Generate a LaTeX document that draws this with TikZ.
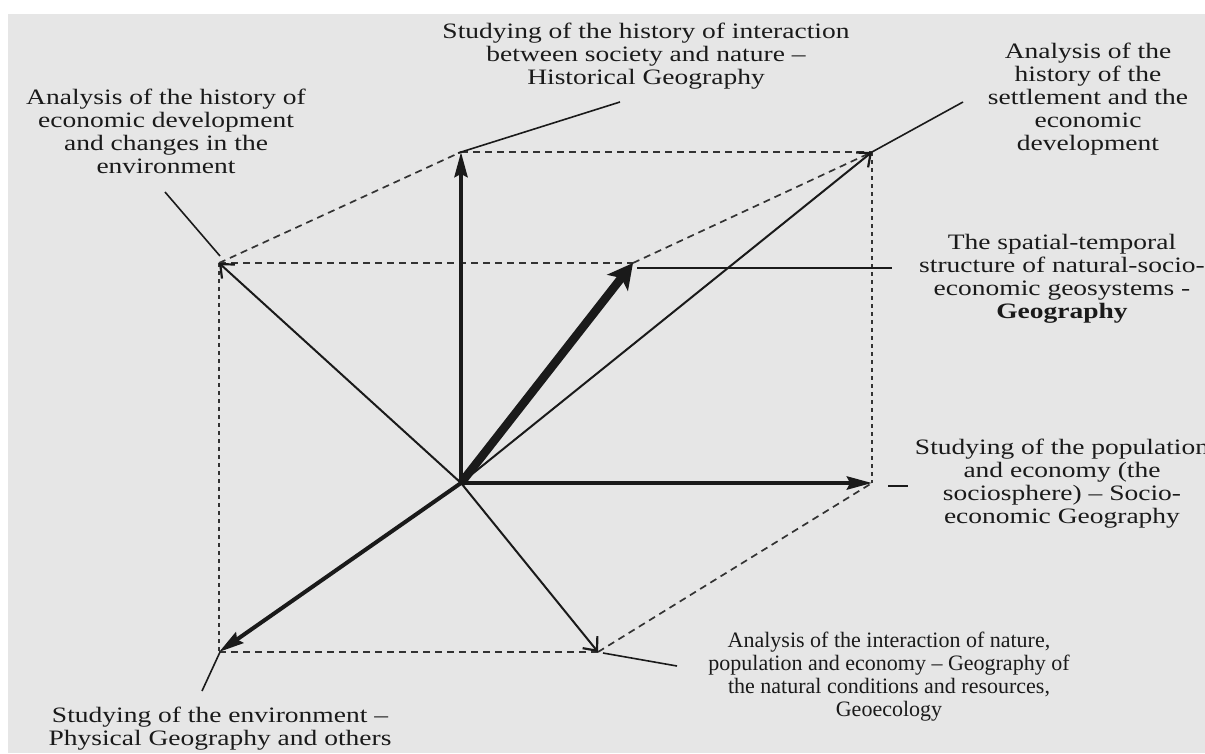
\documentclass[tikz,border=0pt]{standalone}
\usepackage{fontspec}
\setmainfont{Liberation Serif}[FakeStretch=1.25]
\newfontfamily\plainserif{Liberation Serif}[Ligatures=TeX]
\usetikzlibrary{arrows.meta}
\definecolor{bg}{HTML}{E6E6E6}
\definecolor{ink}{HTML}{1A1A1A}
\definecolor{dashink}{HTML}{333333}
\begin{document}
\begin{tikzpicture}[x=1pt,y=-1pt,
  lbl/.style={align=center,font=\fontsize{22}{23}\selectfont,inner sep=0pt,text=ink},
  lblnarrow/.style={lbl,font=\plainserif\fontsize{22}{23}\selectfont},
  leader/.style={line width=1.6pt,draw=ink},
  hid/.style={line width=1.7pt,draw=dashink,dash pattern=on 7pt off 5pt},
  hidv/.style={line width=1.7pt,draw=dashink,dash pattern=on 4pt off 4pt},
  thinarr/.style={line width=2pt,draw=ink,-{Straight Barb[length=11pt,width=19pt,line width=2.2pt]}},
  boldarr/.style={line width=4pt,draw=ink,-{Stealth[length=25pt,width=13pt,inset=3pt]}},
  heavyarr/.style={line width=8.5pt,draw=ink,-{Stealth[length=25pt,width=26pt,inset=6pt]}}]
\useasboundingbox (0,0) rectangle (1205,753);
\clip (0,0) rectangle (1205,753);
\fill[white] (0,0) rectangle (1205,753);
\fill[bg] (8,14) rectangle (1205,753);

% points
\coordinate (O) at (461,483);
\coordinate (X) at (872,483);
\coordinate (Y) at (461,152);
\coordinate (Z) at (219,652);
\coordinate (UL) at (219,263);
\coordinate (LR) at (598,652);
\coordinate (UR) at (872,152);
\coordinate (G) at (633,263);

% dashed box
\draw[hid] (UL) -- (Y);
\draw[hid] (Y) -- (UR);
\draw[hid] (UL) -- (G);
\draw[hid] (G) -- (UR);
\draw[hidv] (UL) -- (Z);
\draw[hidv] (UR) -- (X);
\draw[hid] (Z) -- (LR);
\draw[hid] (LR) -- (X);

% arrows
\draw[thinarr] (O) -- (UL);
\draw[thinarr] (O) -- (LR);
\draw[thinarr] (O) -- (UR);
\draw[boldarr] (O) -- (X);
\draw[boldarr] (O) -- (Y);
\draw[boldarr] (O) -- (Z);
\draw[heavyarr] (O) -- (G);

% labels
\node[lbl] (tHist) at (646,56) {Studying of the history of interaction\\between society and nature --\\Historical Geography};
\node[lbl] (tEcon) at (166,131) {Analysis of the history of\\economic development\\and changes in the\\environment};
\node[lbl] (tSettle) at (1088,99) {Analysis of the\\history of the\\settlement and the\\economic\\development};
\node[lbl] (tGeo) at (1062,279) {The spatial-temporal\\structure of natural-socio-\\economic geosystems -\\\textbf{Geography}};
\node[lbl] (tSocio) at (1062,484) {Studying of the population\\and economy (the\\sociosphere) -- Socio-\\economic Geography};
\node[lblnarrow] (tNat) at (889,677) {Analysis of the interaction of nature,\\population and economy -- Geography of\\the natural conditions and resources,\\Geoecology};
\node[lbl] (tPhys) at (220,729) {Studying of the environment --\\Physical Geography and others};

% leader lines
\coordinate (a1) at (458,153); \coordinate (a2) at (620,102);
\coordinate (b1) at (220,256); \coordinate (b2) at (165,192);
\coordinate (c1) at (872,152); \coordinate (c2) at (963,102);
\coordinate (d1) at (637,268); \coordinate (d2) at (892,268);
\coordinate (e1) at (888,486); \coordinate (e2) at (908,486);
\coordinate (f1) at (603,653); \coordinate (f2) at (677,666);
\coordinate (g1) at (220,652); \coordinate (g2) at (202,691);
\draw[leader] (a1) -- (a2);
\draw[leader] (b1) -- (b2);
\draw[leader] (c1) -- (c2);
\draw[leader] (d1) -- (d2);
\draw[leader] (e1) -- (e2);
\draw[leader] (f1) -- (f2);
\draw[leader] (g1) -- (g2);
\end{tikzpicture}
\end{document}
